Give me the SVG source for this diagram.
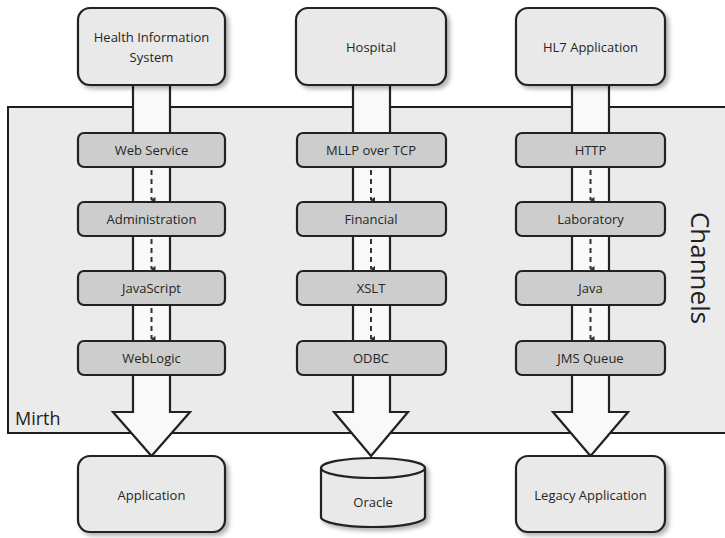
<svg xmlns="http://www.w3.org/2000/svg" width="725" height="538" viewBox="0 0 725 538">
  <defs>
    <filter id="sh" x="-10%" y="-10%" width="130%" height="130%">
      <feDropShadow dx="3" dy="3" stdDeviation="2" flood-color="#000" flood-opacity="0.3"/>
    </filter>
    <marker id="ah" markerWidth="6" markerHeight="6" refX="3" refY="5" orient="auto-start-reverse" markerUnits="userSpaceOnUse" viewBox="0 0 6 6">
      <path d="M0,1 L6,1 L3,6 Z" fill="#333"/>
    </marker>
    <style>
      .outer{fill:#ebebeb;stroke:#1e1e1e;stroke-width:2}
      .big{fill:#e9e9e9;stroke:#222;stroke-width:2.2}
      .inner{fill:#cdcdcd;stroke:#222;stroke-width:2.2}
      .shaft{fill:#f9f9f9;stroke:#222;stroke-width:2.2;stroke-linejoin:miter}
      .dash{stroke:#333;stroke-width:2;stroke-dasharray:5 4;fill:none}
      text{font-family:"Open Sans","DejaVu Sans",sans-serif;fill:#262626;text-anchor:middle}
      .lbl{font-size:13px;font-weight:500}
    </style>
  </defs>

  <g id="mirth">
    <rect class="outer" x="8" y="107" width="730" height="326"/>
    <text x="15" y="425" style="font-size:18px;text-anchor:start;fill:#222">Mirth</text>
  </g>
  <g id="channels-label">
    <text transform="translate(700,268) rotate(90)" y="9" style="font-size:26px;fill:#222">Channels</text>
  </g>

  <g id="connectors">
    <polygon class="shaft" points="133,85 170,85 170,412 190,412 151.5,456 113,412 133,412"/>
    <polygon class="shaft" points="353,85 390,85 390,412 408,412 371,456 334,412 353,412"/>
    <polygon class="shaft" points="572,85 609,85 609,412 628,412 590.5,456 553,412 572,412"/>
    <g marker-end="url(#ah)">
      <line class="dash" x1="151.5" y1="170" x2="151.5" y2="200"/>
      <line class="dash" x1="151.5" y1="239" x2="151.5" y2="269"/>
      <line class="dash" x1="151.5" y1="308" x2="151.5" y2="339"/>
      <line class="dash" x1="371" y1="170" x2="371" y2="200"/>
      <line class="dash" x1="371" y1="239" x2="371" y2="269"/>
      <line class="dash" x1="371" y1="308" x2="371" y2="339"/>
      <line class="dash" x1="590.5" y1="170" x2="590.5" y2="200"/>
      <line class="dash" x1="590.5" y1="239" x2="590.5" y2="269"/>
      <line class="dash" x1="590.5" y1="308" x2="590.5" y2="339"/>
    </g>
  </g>

  <g id="his"><rect class="big" filter="url(#sh)" x="78" y="8" width="147" height="77" rx="12"/>
    <text class="lbl" x="151.5" y="42">Health Information</text><text class="lbl" x="151.5" y="62">System</text></g>
  <g id="hospital"><rect class="big" filter="url(#sh)" x="296" y="8" width="150" height="77" rx="12"/>
    <text class="lbl" x="371" y="52">Hospital</text></g>
  <g id="hl7"><rect class="big" filter="url(#sh)" x="516" y="8" width="149" height="77" rx="12"/>
    <text class="lbl" x="590.5" y="52">HL7 Application</text></g>

  <g id="webservice"><rect class="inner" x="78" y="133" width="147" height="34" rx="6"/><text class="lbl" x="151.5" y="155">Web Service</text></g>
  <g id="administration"><rect class="inner" x="78" y="202" width="147" height="34" rx="6"/><text class="lbl" x="151.5" y="224">Administration</text></g>
  <g id="javascript"><rect class="inner" x="78" y="271" width="147" height="34" rx="6"/><text class="lbl" x="151.5" y="293">JavaScript</text></g>
  <g id="weblogic"><rect class="inner" x="78" y="341" width="147" height="34" rx="6"/><text class="lbl" x="151.5" y="363">WebLogic</text></g>

  <g id="mllp"><rect class="inner" x="297" y="133" width="149" height="34" rx="6"/><text class="lbl" x="371" y="155">MLLP over TCP</text></g>
  <g id="financial"><rect class="inner" x="297" y="202" width="149" height="34" rx="6"/><text class="lbl" x="371" y="224">Financial</text></g>
  <g id="xslt"><rect class="inner" x="297" y="271" width="149" height="34" rx="6"/><text class="lbl" x="371" y="293">XSLT</text></g>
  <g id="odbc"><rect class="inner" x="297" y="341" width="149" height="34" rx="6"/><text class="lbl" x="371" y="363">ODBC</text></g>

  <g id="http"><rect class="inner" x="516" y="133" width="149" height="34" rx="6"/><text class="lbl" x="590.5" y="155">HTTP</text></g>
  <g id="laboratory"><rect class="inner" x="516" y="202" width="149" height="34" rx="6"/><text class="lbl" x="590.5" y="224">Laboratory</text></g>
  <g id="java"><rect class="inner" x="516" y="271" width="149" height="34" rx="6"/><text class="lbl" x="590.5" y="293">Java</text></g>
  <g id="jms"><rect class="inner" x="516" y="341" width="149" height="34" rx="6"/><text class="lbl" x="590.5" y="363">JMS Queue</text></g>

  <g id="application"><rect class="big" filter="url(#sh)" x="78" y="456" width="147" height="76" rx="12"/>
    <text class="lbl" x="151.5" y="500">Application</text></g>
  <g id="oracle">
    <path class="big" filter="url(#sh)" d="M321,468 A52,10 0 0 1 425,468 L425,517 A52,10 0 0 1 321,517 Z"/>
    <path d="M321,468 A52,10 0 0 0 425,468" fill="none" stroke="#222" stroke-width="2.2"/>
    <text class="lbl" x="373" y="507">Oracle</text>
  </g>
  <g id="legacy"><rect class="big" filter="url(#sh)" x="516" y="456" width="149" height="76" rx="12"/>
    <text class="lbl" x="590.5" y="500">Legacy Application</text></g>
</svg>
